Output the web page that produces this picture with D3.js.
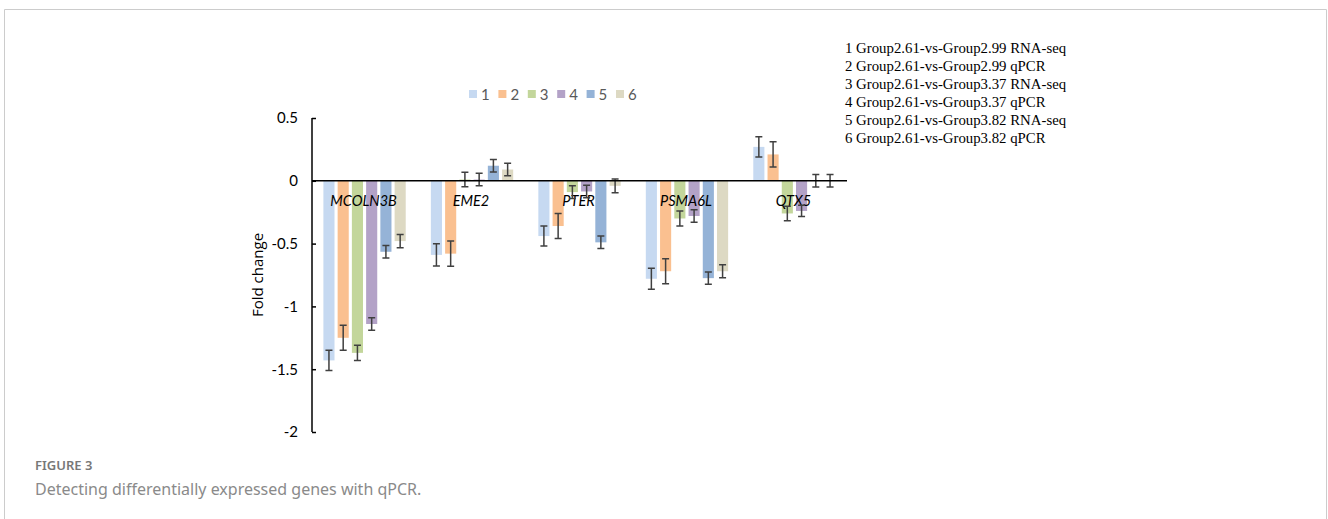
<!DOCTYPE html>
<html>
<head>
  <meta charset="UTF-8">
  <title>Detecting differentially expressed genes with qPCR</title>
  <script src="https://d3js.org/d3.v7.min.js"></script>
  <style>
    body { margin: 0; background: #fff; }
    .tick text { font-family: Lato, "Open Sans", sans-serif; }
  </style>
</head>
<body>
<div id="chart"></div>
<script>
  // genes along the x axis
  var genes = ["MCOLN3B", "EME2", "PTER", "PSMA6L", "QTX5"];
  // series keys used in the top legend
  var seriesKeys = ["1", "2", "3", "4", "5", "6"];
  // full names of the series (right-hand legend)
  var seriesNames = [
    "1 Group2.61-vs-Group2.99 RNA-seq",
    "2 Group2.61-vs-Group2.99 qPCR",
    "3 Group2.61-vs-Group3.37 RNA-seq",
    "4 Group2.61-vs-Group3.37 qPCR",
    "5 Group2.61-vs-Group3.82 RNA-seq",
    "6 Group2.61-vs-Group3.82 qPCR"
  ];
  // fold change per series, one value per gene
  var s1 = [-1.43, -0.59, -0.44, -0.78, 0.27];
  var s2 = [-1.25, -0.58, -0.36, -0.72, 0.21];
  var s3 = [-1.37, 0.01, -0.09, -0.30, -0.26];
  var s4 = [-1.14, 0.01, -0.085, -0.28, -0.24];
  var s5 = [-0.565, 0.12, -0.49, -0.775, 0.0];
  var s6 = [-0.48, 0.09, -0.04, -0.72, 0.0];
  // error bar half lengths
  var e1 = [0.08, 0.088, 0.08, 0.084, 0.081];
  var e2 = [0.1, 0.1, 0.1, 0.1, 0.1];
  var e3 = [0.06, 0.058, 0.05, 0.06, 0.058];
  var e4 = [0.05, 0.05, 0.05, 0.05, 0.045];
  var e5 = [0.05, 0.05, 0.05, 0.048, 0.05];
  var e6 = [0.053, 0.05, 0.055, 0.052, 0.05];
  var yTicks = [0.5, 0, -0.5, -1, -1.5, -2];

  var colors = ["#c6d9f1", "#fac090", "#c3d69b", "#b3a2c7", "#95b3d7", "#ddd9c3"];

  var values = [s1, s2, s3, s4, s5, s6];
  var errors = [e1, e2, e3, e4, e5, e6];

  var width = 1328, height = 519;

  var svg = d3.select("#chart").append("svg")
      .attr("width", width)
      .attr("height", height);

  // light frame around the figure (no bottom edge)
  svg.append("path")
      .attr("d", "M4.5," + height + "V9.5H1326.5V" + height)
      .attr("fill", "none")
      .attr("stroke", "#cccccc")
      .attr("stroke-width", 1);

  // scales
  var y = d3.scaleLinear().domain([-2, 0.5]).range([432, 118]);
  var x0 = d3.scaleBand().domain(genes).range([312, 847])
      .paddingInner(0.234).paddingOuter(0.106);
  var x1 = d3.scaleBand().domain(seriesKeys).range([0, x0.bandwidth()])
      .paddingInner(0.22);

  // flatten into rows for drawing
  var rows = [];
  genes.forEach(function(g, gi) {
    seriesKeys.forEach(function(k, si) {
      rows.push({gene: g, key: k, si: si, v: values[si][gi], e: errors[si][gi]});
    });
  });

  // bars
  svg.append("g").selectAll("rect")
    .data(rows)
    .enter().append("rect")
      .attr("x", function(d) { return x0(d.gene) + x1(d.key); })
      .attr("y", function(d) { return y(Math.max(0, d.v)); })
      .attr("width", x1.bandwidth())
      .attr("height", function(d) { return Math.abs(y(d.v) - y(0)); })
      .attr("fill", function(d) { return colors[d.si]; });

  // gene labels (italic, inside the plot just under zero line)
  svg.append("g").selectAll("text")
    .data(genes)
    .enter().append("text")
      .attr("x", function(g) { return x0(g) + x0.bandwidth() / 2 - 1; })
      .attr("y", y(0) + 25)
      .attr("text-anchor", "middle")
      .attr("font-family", "Lato, 'Open Sans', sans-serif")
      .attr("font-style", "italic")
      .attr("font-size", 14.5)
      .attr("fill", "#000")
      .text(function(g) { return g; });

  // error bars
  var eb = svg.append("g")
      .attr("stroke", "#404040")
      .attr("stroke-width", 1.5)
      .attr("fill", "none");
  eb.selectAll("path")
    .data(rows)
    .enter().append("path")
      .attr("d", function(d) {
        var cx = x0(d.gene) + x1(d.key) + x1.bandwidth() / 2;
        var top = y(d.v + d.e), bot = y(d.v - d.e);
        return "M" + (cx - 3.5) + "," + top + "H" + (cx + 3.5) +
               "M" + cx + "," + top + "V" + bot +
               "M" + (cx - 3.5) + "," + bot + "H" + (cx + 3.5);
      });

  // y axis with inside ticks
  var yAxis = svg.append("g")
      .attr("transform", "translate(312,0)")
      .call(d3.axisRight(y).tickValues(yTicks).tickSize(4)
            .tickFormat(function(d) { return d3.format("")(d).replace("−", "-"); }));
  yAxis.select(".domain").attr("stroke", "#000").attr("stroke-width", 1.5)
      .attr("d", "M0," + y(0.5) + "V" + y(-2));
  yAxis.selectAll(".tick line").attr("stroke", "#000").attr("stroke-width", 1.5);
  yAxis.selectAll(".tick text")
      .attr("x", -14)
      .attr("text-anchor", "end")
      .attr("font-size", 15)
      .attr("fill", "#000");

  // zero line / x axis
  svg.append("line")
      .attr("x1", 312).attr("x2", 847)
      .attr("y1", y(0)).attr("y2", y(0))
      .attr("stroke", "#000").attr("stroke-width", 1.5);

  // y axis title
  svg.append("text")
      .attr("transform", "translate(263,275) rotate(-90)")
      .attr("text-anchor", "middle")
      .attr("font-family", "'Open Sans', sans-serif")
      .attr("font-size", 15)
      .attr("fill", "#000")
      .text("Fold change");

  // top legend
  var leg = svg.append("g").selectAll("g")
    .data(seriesKeys)
    .enter().append("g")
      .attr("transform", function(d, i) { return "translate(" + (469 + i * 29.4) + ",90)"; });
  leg.append("rect")
      .attr("width", 8).attr("height", 8)
      .attr("fill", function(d, i) { return colors[i]; });
  leg.append("text")
      .attr("x", 12).attr("y", 9.5)
      .attr("font-family", "Lato, 'Open Sans', sans-serif")
      .attr("font-size", 15)
      .attr("fill", "#595959")
      .text(function(d) { return d; });

  // right-hand legend with full series names
  svg.append("g").selectAll("text")
    .data(seriesNames)
    .enter().append("text")
      .attr("x", 845)
      .attr("y", function(d, i) { return 53 + i * 18; })
      .attr("font-family", "'Liberation Serif', serif")
      .attr("font-size", 14.8)
      .attr("fill", "#000")
      .text(function(d) { return d; });

  // caption
  svg.append("text")
      .attr("x", 35).attr("y", 470)
      .attr("font-family", "'Noto Sans', sans-serif")
      .attr("font-size", 13)
      .attr("font-weight", 600)
      .attr("fill", "#777")
      .text("FIGURE 3");
  svg.append("text")
      .attr("x", 35).attr("y", 495)
      .attr("font-family", "'Noto Sans', sans-serif")
      .attr("font-size", 16)
      .attr("fill", "#8a8a8a")
      .text("Detecting differentially expressed genes with qPCR.");
</script>
</body>
</html>
